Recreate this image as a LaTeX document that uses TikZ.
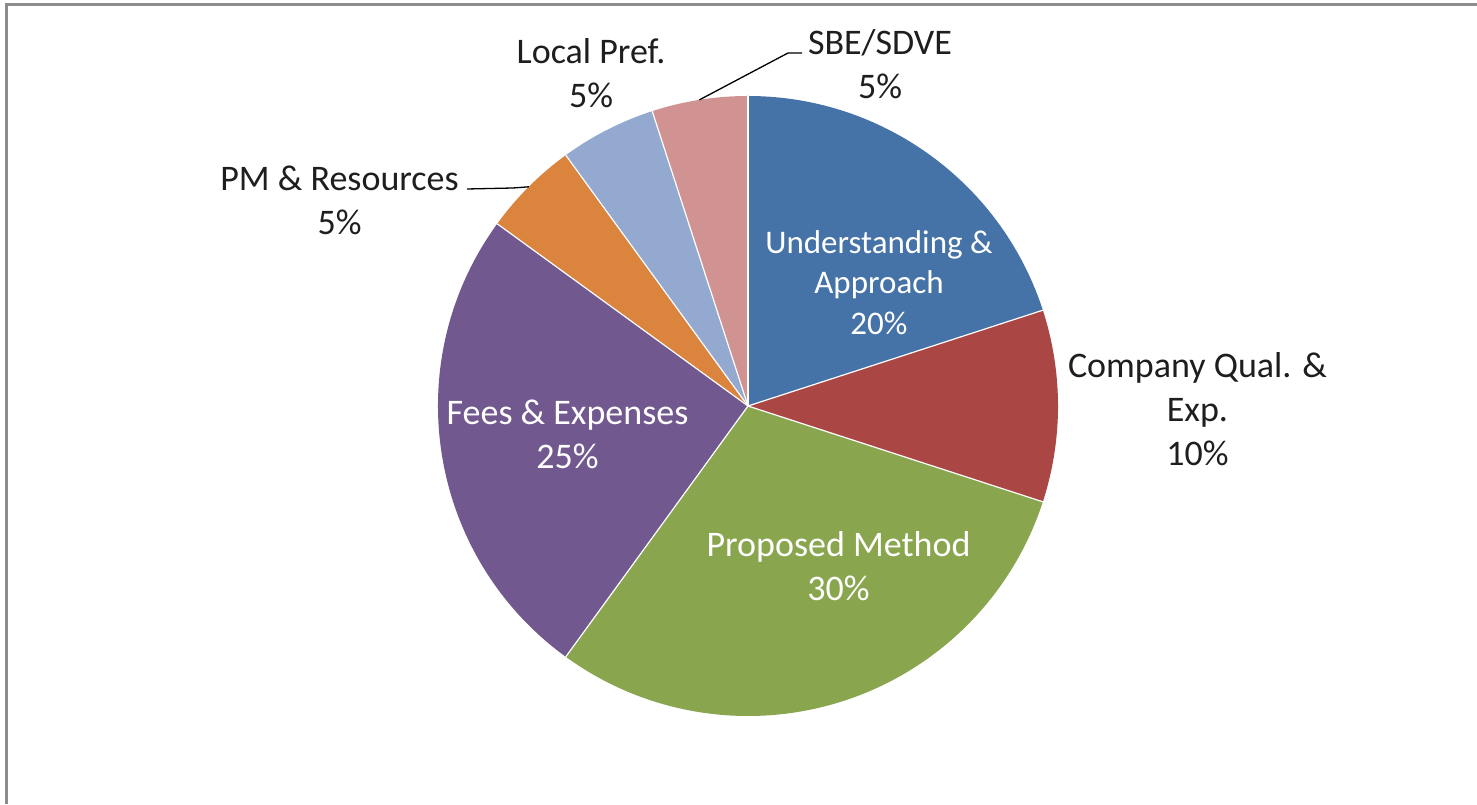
\documentclass[tikz,border=0pt]{standalone}
\usepackage{fontspec}
\setmainfont{Carlito}
\usetikzlibrary{calc}
\definecolor{cUnd}{HTML}{4572A7}
\definecolor{cComp}{HTML}{AA4643}
\definecolor{cProp}{HTML}{89A54E}
\definecolor{cFees}{HTML}{71588F}
\definecolor{cPM}{HTML}{DB843D}
\definecolor{cLocal}{HTML}{93A9CF}
\definecolor{cSBE}{HTML}{D19392}
\definecolor{frameclr}{HTML}{8C8C8C}
\definecolor{txtdark}{HTML}{1E1E1E}
\tikzset{
  slice/.style={draw=white, line width=1.2pt, line join=round},
  lblin/.style={text=white, align=center, inner sep=0pt, font=\fontsize{36}{44}\selectfont},
  lblout/.style={text=txtdark, align=center, inner sep=0pt, font=\fontsize{36}{44}\selectfont},
  leader/.style={draw=black, line width=1.3pt}
}
\begin{document}
\begin{tikzpicture}[x=1pt,y=1pt]
\useasboundingbox (0,0) rectangle (1477,804);
\fill[white] (0,0) rectangle (1477,804);
% frame
\draw[frameclr, line width=3pt] (6.5,0) -- (6.5,799.8) -- (1477,799.8);
% pie
\coordinate (C) at (748,398);
\def\R{310}
\fill[cUnd]   (C) -- ++(90:\R)  arc[start angle=90,  end angle=18,   radius=\R] -- cycle;
\fill[cComp]  (C) -- ++(18:\R)  arc[start angle=18,  end angle=-18,  radius=\R] -- cycle;
\fill[cProp]  (C) -- ++(-18:\R) arc[start angle=-18, end angle=-126, radius=\R] -- cycle;
\fill[cFees]  (C) -- ++(-126:\R) arc[start angle=-126, end angle=-216, radius=\R] -- cycle;
\fill[cPM]    (C) -- ++(144:\R) arc[start angle=144, end angle=126,  radius=\R] -- cycle;
\fill[cLocal] (C) -- ++(126:\R) arc[start angle=126, end angle=108,  radius=\R] -- cycle;
\fill[cSBE]   (C) -- ++(108:\R) arc[start angle=108, end angle=90,   radius=\R] -- cycle;
\foreach \a in {90,18,-18,-126,144,126,108}{
  \draw[slice] (C) -- ++(\a:\R);
}
% labels inside
\node[lblin, font=\fontsize{33}{40.5}\selectfont] (und) at (879,521.5) {Understanding \&\\Approach\\20\%};
\node[lblin] (prop) at (838.5,237.5) {Proposed Method\\30\%};
\node[lblin] (fees) at (567.5,369.5) {Fees \& Expenses\\25\%};
% labels outside
\node[lblout] (comp) at (1197.5,395) {Company Qual. \&\\Exp.\\10\%};
\node[lblout] (pm) at (339.5,604) {PM \& Resources\\5\%};
\node[lblout] (local) at (591,731) {Local Pref.\\5\%};
\node[lblout] (sbe) at (880,739.5) {SBE/SDVE\\5\%};
% leaders
\coordinate (pmEdge) at ($(C)+(135:\R)$);
\coordinate (pmBend) at (513,616);
\coordinate (pmEnd) at (467,615);
\draw[leader] (pmEdge) -- (pmBend) -- (pmEnd);
\coordinate (sbeEdge) at ($(C)+(99:\R)$);
\coordinate (sbeBend) at (788,751);
\coordinate (sbeEnd) at (802,751);
\draw[leader] (sbeEdge) -- (sbeBend) -- (sbeEnd);
\end{tikzpicture}
\end{document}
